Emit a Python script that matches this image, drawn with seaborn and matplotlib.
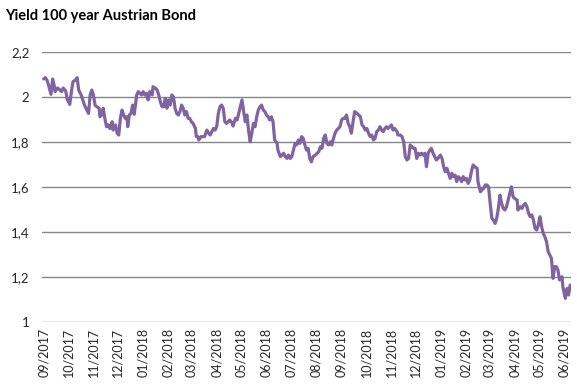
#Imports
import pandas as pd
import matplotlib
matplotlib.use("Agg")
import matplotlib.pyplot as plt
import matplotlib.dates as mdates
from matplotlib.ticker import FuncFormatter
import seaborn as sns

#Data
dates = [
    "2017-09-01", "2017-09-03", "2017-09-05", "2017-09-07", "2017-09-10", "2017-09-12",
    "2017-09-14", "2017-09-15", "2017-09-18", "2017-09-20", "2017-09-23", "2017-09-25",
    "2017-09-28", "2017-09-30", "2017-10-03", "2017-10-05", "2017-10-07", "2017-10-10",
    "2017-10-12", "2017-10-14", "2017-10-17", "2017-10-19", "2017-10-21", "2017-10-24",
    "2017-10-26", "2017-10-28", "2017-10-30", "2017-11-01", "2017-11-03", "2017-11-05",
    "2017-11-08", "2017-11-09", "2017-11-11", "2017-11-13", "2017-11-15", "2017-11-17",
    "2017-11-19", "2017-11-21", "2017-11-24", "2017-11-25", "2017-11-28", "2017-11-30",
    "2017-12-02", "2017-12-04", "2017-12-06", "2017-12-08",
    "2017-12-10", "2017-12-12", "2017-12-13", "2017-12-15", "2017-12-17", "2017-12-19",
    "2017-12-21", "2017-12-24", "2017-12-26", "2017-12-28", "2017-12-30", "2018-01-01",
    "2018-01-03", "2018-01-05", "2018-01-07", "2018-01-09", "2018-01-12", "2018-01-13",
    "2018-01-16", "2018-01-18", "2018-01-20", "2018-01-22", "2018-01-24", "2018-01-26",
    "2018-01-28", "2018-01-30", "2018-02-01", "2018-02-03", "2018-02-05", "2018-02-07",
    "2018-02-09", "2018-02-11", "2018-02-13", "2018-02-15", "2018-02-17", "2018-02-19",
    "2018-02-21", "2018-02-23", "2018-02-25", "2018-02-27", "2018-03-01", "2018-03-03",
    "2018-03-06", "2018-03-07", "2018-03-09", "2018-03-10", "2018-03-13", "2018-03-14",
    "2018-03-17", "2018-03-20", "2018-03-22", "2018-03-24", "2018-03-26", "2018-03-28",
    "2018-03-30", "2018-04-01", "2018-04-03",
    "2018-04-05", "2018-04-07", "2018-04-09", "2018-04-11", "2018-04-13", "2018-04-15",
    "2018-04-17", "2018-04-20", "2018-04-21", "2018-04-24", "2018-04-26", "2018-04-28",
    "2018-04-30", "2018-05-02", "2018-05-04", "2018-05-06", "2018-05-08", "2018-05-10",
    "2018-05-12", "2018-05-14", "2018-05-16", "2018-05-18", "2018-05-20", "2018-05-22",
    "2018-05-24", "2018-05-26", "2018-05-28", "2018-05-30", "2018-06-01", "2018-06-03",
    "2018-06-05", "2018-06-07", "2018-06-09", "2018-06-11", "2018-06-14", "2018-06-15",
    "2018-06-18", "2018-06-20", "2018-06-22", "2018-06-24", "2018-06-26", "2018-06-28",
    "2018-06-30", "2018-07-02", "2018-07-04", "2018-07-06", "2018-07-08", "2018-07-10",
    "2018-07-12", "2018-07-14", "2018-07-16", "2018-07-18", "2018-07-20", "2018-07-22",
    "2018-07-24", "2018-07-26", "2018-07-28", "2018-07-31", "2018-08-02", "2018-08-04",
    "2018-08-06", "2018-08-08", "2018-08-10", "2018-08-12", "2018-08-14", "2018-08-16",
    "2018-08-18", "2018-08-20", "2018-08-22", "2018-08-24", "2018-08-26", "2018-08-28",
    "2018-08-30", "2018-09-01", "2018-09-03", "2018-09-05", "2018-09-07", "2018-09-09",
    "2018-09-11", "2018-09-13", "2018-09-15", "2018-09-17", "2018-09-20", "2018-09-22",
    "2018-09-24", "2018-09-26", "2018-09-28", "2018-09-30", "2018-10-02", "2018-10-04",
    "2018-10-06", "2018-10-08", "2018-10-10", "2018-10-12", "2018-10-14", "2018-10-16",
    "2018-10-18", "2018-10-20", "2018-10-22", "2018-10-24", "2018-10-26", "2018-10-28",
    "2018-10-30", "2018-11-01", "2018-11-03", "2018-11-05", "2018-11-08", "2018-11-09",
    "2018-11-12", "2018-11-14", "2018-11-16", "2018-11-18", "2018-11-20", "2018-11-22",
    "2018-11-24", "2018-11-26", "2018-11-28", "2018-11-30", "2018-12-02", "2018-12-04",
    "2018-12-06", "2018-12-08", "2018-12-10", "2018-12-12", "2018-12-14", "2018-12-16",
    "2018-12-18", "2018-12-20", "2018-12-22", "2018-12-24", "2018-12-26", "2018-12-28",
    "2018-12-31", "2019-01-02", "2019-01-04", "2019-01-06", "2019-01-08", "2019-01-10",
    "2019-01-12", "2019-01-14", "2019-01-16", "2019-01-18", "2019-01-20", "2019-01-22",
    "2019-01-24", "2019-01-26", "2019-01-28", "2019-01-30", "2019-02-01", "2019-02-03",
    "2019-02-05", "2019-02-07", "2019-02-09", "2019-02-11", "2019-02-14", "2019-02-15",
    "2019-02-18", "2019-02-20", "2019-02-22", "2019-02-24", "2019-02-26", "2019-02-28",
    "2019-03-02", "2019-03-04", "2019-03-06", "2019-03-08", "2019-03-10", "2019-03-12",
    "2019-03-14", "2019-03-16", "2019-03-18", "2019-03-20", "2019-03-22", "2019-03-24",
    "2019-03-26", "2019-03-28", "2019-03-30", "2019-04-01", "2019-04-04", "2019-04-05",
    "2019-04-08", "2019-04-10", "2019-04-12", "2019-04-14", "2019-04-16", "2019-04-18",
    "2019-04-20", "2019-04-22", "2019-04-24", "2019-04-26", "2019-04-28", "2019-04-30",
    "2019-05-02", "2019-05-04", "2019-05-06", "2019-05-08", "2019-05-10", "2019-05-12",
    "2019-05-14", "2019-05-16", "2019-05-18", "2019-05-20", "2019-05-22", "2019-05-24",
    "2019-05-26", "2019-05-29", "2019-05-30", "2019-06-02", "2019-06-04", "2019-06-06",
    "2019-06-08",
]

yields = [
    2.080, 2.086, 2.076, 2.053, 2.012, 2.080,
    2.050, 2.024, 2.040, 2.035, 2.024, 2.040,
    2.027, 1.990, 1.967, 2.024, 2.068, 2.076,
    2.086, 2.030, 2.009, 1.987, 1.964, 1.942,
    1.927, 2.009, 2.031, 2.009, 1.964, 1.957,
    1.950, 1.912, 1.920, 1.950, 1.905, 1.868,
    1.876, 1.860, 1.890, 1.853, 1.876, 1.839,
    1.831, 1.905, 1.942, 1.920,
    1.905, 1.912, 1.868, 1.920, 1.927, 1.964,
    1.923, 2.009, 2.024, 2.016, 2.009, 2.024,
    2.009, 2.016, 1.987, 2.024, 2.009, 2.046,
    2.039, 2.031, 2.009, 1.979, 1.957, 1.957,
    1.994, 1.950, 1.987, 1.964, 2.009, 2.001,
    1.950, 1.927, 1.920, 1.935, 1.964, 1.950,
    1.920, 1.935, 1.905, 1.905, 1.890, 1.883,
    1.860, 1.824, 1.824, 1.809, 1.824, 1.824,
    1.824, 1.853, 1.839, 1.831, 1.846, 1.860,
    1.853, 1.868, 1.927,
    1.957, 1.964, 1.950, 1.890, 1.883, 1.890,
    1.898, 1.883, 1.871, 1.905, 1.898, 1.927,
    1.957, 1.987, 1.935, 1.890, 1.920, 1.853,
    1.801, 1.839, 1.883, 1.868, 1.912, 1.942,
    1.957, 1.964, 1.942, 1.935, 1.920, 1.912,
    1.898, 1.912, 1.890, 1.809, 1.794, 1.764,
    1.735, 1.742, 1.750, 1.735, 1.727, 1.742,
    1.727, 1.735, 1.764, 1.794, 1.787, 1.809,
    1.794, 1.824, 1.816, 1.787, 1.764, 1.772,
    1.727, 1.712, 1.735, 1.742, 1.750, 1.757,
    1.779, 1.772, 1.816, 1.831, 1.794, 1.787,
    1.801, 1.787, 1.816, 1.839, 1.853, 1.860,
    1.868, 1.898, 1.905, 1.905, 1.920, 1.883,
    1.868, 1.839, 1.890, 1.935, 1.927, 1.920,
    1.912, 1.876, 1.868, 1.853, 1.860, 1.839,
    1.824, 1.831, 1.809, 1.816, 1.846, 1.853,
    1.868, 1.853, 1.846, 1.860, 1.868, 1.860,
    1.868, 1.876, 1.853, 1.860, 1.846, 1.831,
    1.831, 1.824, 1.801, 1.735, 1.720, 1.727,
    1.787, 1.779, 1.772, 1.772, 1.727, 1.750,
    1.742, 1.750, 1.742, 1.750, 1.690, 1.750,
    1.764, 1.772, 1.750, 1.735, 1.720, 1.727,
    1.742, 1.727, 1.690, 1.668, 1.683, 1.661,
    1.638, 1.661, 1.646, 1.653, 1.624, 1.646,
    1.638, 1.624, 1.646, 1.631, 1.638, 1.616,
    1.631, 1.668, 1.698, 1.690, 1.683, 1.624,
    1.579, 1.587, 1.594, 1.609, 1.609, 1.601,
    1.527, 1.461, 1.453, 1.438, 1.461, 1.505,
    1.564, 1.527, 1.505, 1.498, 1.512, 1.542,
    1.572, 1.601, 1.557, 1.549, 1.542, 1.498,
    1.512, 1.505, 1.520, 1.527, 1.512, 1.483,
    1.468, 1.476, 1.453, 1.416, 1.409, 1.431,
    1.468, 1.424, 1.394, 1.379, 1.357, 1.313,
    1.298, 1.283, 1.194, 1.246, 1.246, 1.231,
    1.187, 1.201, 1.157, 1.105, 1.149, 1.120,
    1.164,
]

y_ticks = [1, 1.2, 1.4, 1.6, 1.8, 2, 2.2]
title = "Yield 100 year Austrian Bond"

df = pd.DataFrame({"Date": pd.to_datetime(dates), "Yield": yields})

#Style
sns.set_style("white")
plt.rcParams["font.family"] = ["Lato", "DejaVu Sans"]

fig = plt.figure(figsize=(5.77, 3.86), dpi=100)
ax = fig.add_axes([0.0728, 0.1658, 0.9168, 0.6995])

sns.lineplot(
    data=df,
    x="Date",
    y="Yield",
    color="#8064A2",
    linewidth=2.3,
    ax=ax
)

#Axes
ax.set_ylim(1, 2.2)
ax.set_yticks(y_ticks)
ax.yaxis.set_major_formatter(
    FuncFormatter(lambda v, pos: f"{v:g}".replace(".", ","))
)
ax.set_xlim(pd.Timestamp("2017-08-30"), pd.Timestamp("2019-06-09"))
ax.xaxis.set_major_locator(mdates.MonthLocator())
ax.xaxis.set_major_formatter(mdates.DateFormatter("%m/%Y"))
plt.setp(ax.get_xticklabels(), rotation=90, ha="center")

ax.grid(axis="y", color="#868686", linewidth=1)
ax.grid(axis="x", visible=False)
ax.set_axisbelow(True)
for side in ["top", "right", "left", "bottom"]:
    ax.spines[side].set_visible(False)
ax.tick_params(axis="y", length=0, pad=9, labelsize=9.5, labelcolor="#262626")
ax.tick_params(axis="x", length=0, pad=4, labelsize=9, labelcolor="#262626")
ax.set_xlabel("")
ax.set_ylabel("")

fig.text(0.009, 0.958, title, fontsize=10.5, fontweight="bold",
         va="center", ha="left", color="black")

#Save Plot
fig.savefig("out.png", dpi=100)
